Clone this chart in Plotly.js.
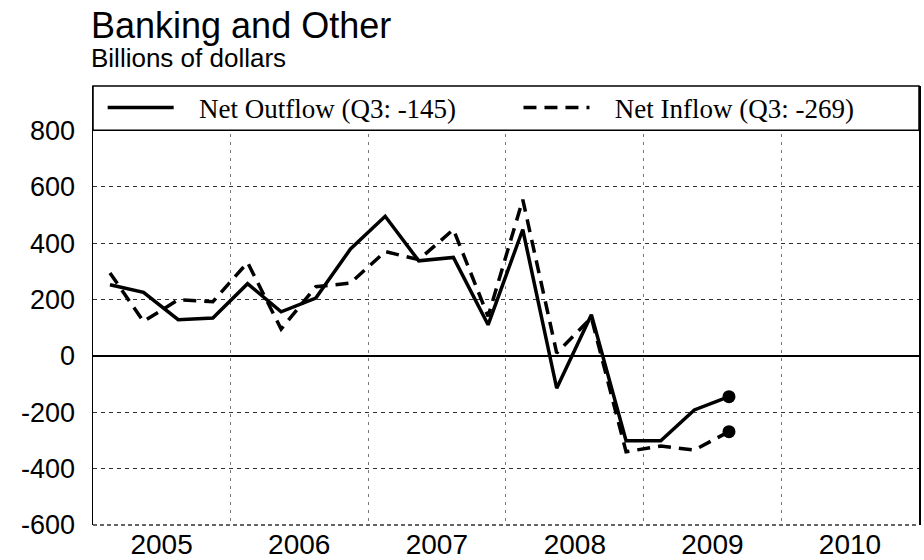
<!DOCTYPE html>
<html><head><meta charset="utf-8">
<script src="https://cdn.plot.ly/plotly-3.0.1.min.js"></script>
<style>html,body{margin:0;padding:0;background:#fff}#chart{width:924px;height:560px}</style>
</head><body><div id="chart"></div>
<script>
const quarters = ['2005-02-15','2005-05-15','2005-08-15','2005-11-15',
  '2006-02-15','2006-05-15','2006-08-15','2006-11-15',
  '2007-02-15','2007-05-15','2007-08-15','2007-11-15',
  '2008-02-15','2008-05-15','2008-08-15','2008-11-15',
  '2009-02-15','2009-05-15','2009-08-15'];
const netOutflow = [252,225,128,134,256,156,205,379,495,337,349,110,448,-115,146,-301,-301,-192,-145];
const netInflow  = [294,122,199,192,331,95,245,258,370,341,448,140,554,10,135,-340,-320,-334,-269];
const seriesNames = ['Net Outflow (Q3: -145)','Net Inflow (Q3: -269)'];
const yTicks = [-600,-400,-200,0,200,400,600,800];
const yearLabels = ['2005','2006','2007','2008','2009','2010'];
const titleText = 'Banking and Other';
const subtitleText = 'Billions of dollars';

const pad = '\u00a0\u00a0\u00a0';
const last = quarters.length - 1;
const traces = [
  {x: quarters, y: netOutflow, name: pad + seriesNames[0], mode: 'lines', legend: 'legend',
   line: {color: '#000', width: 3.5}},
  {x: quarters, y: netInflow, name: pad + seriesNames[1], mode: 'lines', legend: 'legend2',
   line: {color: '#000', width: 3.5, dash: '13px,8px'}},
  {x: [quarters[last]], y: [netOutflow[last]], mode: 'markers', showlegend: false,
   marker: {color: '#000', size: 13}},
  {x: [quarters[last]], y: [netInflow[last]], mode: 'markers', showlegend: false,
   marker: {color: '#000', size: 13}}
];

const legendStyle = {
  orientation: 'h', xanchor: 'left', y: 0.95, yanchor: 'middle',
  bgcolor: 'rgba(0,0,0,0)', borderwidth: 0,
  font: {family: 'Liberation Serif, Times New Roman, serif', size: 27, color: '#000'},
  itemwidth: 66
};

const layout = {
  width: 924, height: 560,
  margin: {l: 93, r: 5, t: 86, b: 35, pad: 0},
  paper_bgcolor: '#fff', plot_bgcolor: '#fff',
  showlegend: true,
  font: {family: 'Liberation Sans, Arial, sans-serif', color: '#000'},
  xaxis: {
    type: 'date',
    range: ['2005-01-01', '2011-01-01'],
    tickmode: 'array',
    tickvals: yearLabels.map(y => y + '-07-02'),
    ticktext: yearLabels,
    ticks: '', showgrid: false, zeroline: false, showline: false,
    tickfont: {size: 28, family: 'Liberation Sans, Arial, sans-serif'},
    minor: {tickmode: 'linear', tick0: '2005-01-01', dtick: 'M12', ticks: '',
            showgrid: true, gridcolor: '#777', gridwidth: 1, griddash: '3px,5px'}
  },
  yaxis: {
    range: [-600, 957],
    tickmode: 'array', tickvals: yTicks, ticktext: yTicks.map(String),
    ticks: '', ticklabelstandoff: 11,
    showgrid: true, gridcolor: '#333', gridwidth: 1, griddash: '4px,4px',
    zeroline: true, zerolinecolor: '#000', zerolinewidth: 1.5,
    showline: true, mirror: true, linecolor: '#000', linewidth: 1.5,
    tickfont: {size: 27, family: 'Liberation Sans, Arial, sans-serif'}
  },
  legend: Object.assign({}, legendStyle, {x: 0.0117}),
  legend2: Object.assign({}, legendStyle, {x: 0.5151}),
  shapes: [
    {type: 'rect', xref: 'paper', yref: 'paper', x0: 0, x1: 1, y0: 0.899, y1: 1,
     fillcolor: '#fff', line: {color: '#000', width: 1.5}, layer: 'above'},
    {type: 'line', xref: 'paper', yref: 'paper', x0: 0, x1: 1, y0: 0, y1: 0,
     line: {color: '#333', width: 1.5, dash: '4px,3px'}, layer: 'above'}
  ],
  annotations: [
    {text: titleText, xref: 'paper', yref: 'paper', x: 0, xshift: -4, xanchor: 'left',
     y: 1.1375, yanchor: 'middle', showarrow: false,
     font: {size: 36, family: 'Liberation Sans, Arial, sans-serif', color: '#000'}},
    {text: subtitleText, xref: 'paper', yref: 'paper', x: 0, xshift: -4, xanchor: 'left',
     y: 1.063, yanchor: 'middle', showarrow: false,
     font: {size: 26, family: 'Liberation Sans, Arial, sans-serif', color: '#000'}}
  ]
};

Plotly.newPlot('chart', traces, layout, {displayModeBar: false, staticPlot: true});
</script>
</body></html>
